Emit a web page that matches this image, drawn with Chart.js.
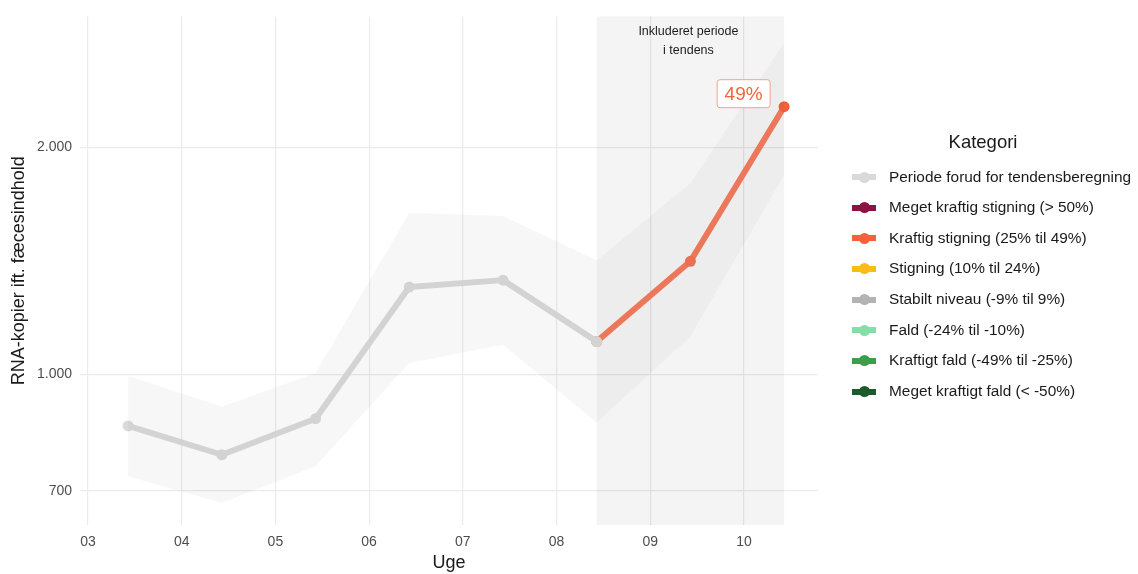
<!DOCTYPE html>
<html>
<head>
<meta charset="utf-8">
<script src="https://cdn.jsdelivr.net/npm/chart.js@4.4.0/dist/chart.umd.min.js"></script>
<style>
  html, body { margin: 0; padding: 0; background: #ffffff; }
  #wrap { position: relative; width: 1138px; height: 574px; overflow: hidden; font-family: "Liberation Sans", Arial, sans-serif; }
  #c { position: absolute; left: 0; top: 0; }
  #legend { position: absolute; left: 850px; top: 0; width: 288px; height: 574px; }
  #legend .title { position: absolute; left: 0; width: 266px; text-align: center; top: 131px; font-size: 18.5px; color: #1a1a1a; }
  #legend .item { position: absolute; left: 2px; height: 20px; font-size: 15.4px; color: #1a1a1a; white-space: nowrap; }
  #legend .bar { position: absolute; left: 0; top: 7px; width: 24px; height: 6px; }
  #legend .dot { position: absolute; left: 7px; top: 4.5px; width: 11px; height: 11px; border-radius: 50%; }
  #legend .txt { position: absolute; left: 37px; top: 0.5px; line-height: 18px; }
</style>
</head>
<body>
<div id="wrap">
  <canvas id="c" width="1138" height="574"></canvas>
  <div id="legend"></div>
</div>
<script>
// ---- data ----
const weeks = [3, 4, 5, 6, 7, 8, 9, 10];
const weekLabels = ['03', '04', '05', '06', '07', '08', '09', '10'];
const values = [854, 782, 873, 1305, 1333, 1105, 1412, 2264];
const upperBand = [995, 906, 1004, 1637, 1622, 1416, 1794, 2756];
const lowerBand = [732, 675, 755, 1035, 1094, 862, 1122, 1837];
const trendStartIndex = 5;
const yTicks = [700, 1000, 2000];
const yTickLabels = ['700', '1.000', '2.000'];
const trendLabel = '49%';
const shadeText = ['Inkluderet periode', 'i tendens'];
const legendTitle = 'Kategori';
const legendLabels = [
  'Periode forud for tendensberegning',
  'Meget kraftig stigning (> 50%)',
  'Kraftig stigning (25% til 49%)',
  'Stigning (10% til 24%)',
  'Stabilt niveau (-9% til 9%)',
  'Fald (-24% til -10%)',
  'Kraftigt fald (-49% til -25%)',
  'Meget kraftigt fald (< -50%)'
];
const legendColors = ['#d9d9d9', '#8b1244', '#f4623c', '#fbbd13', '#b3b3b3', '#84dea8', '#3a9f48', '#1d5a2b'];

// ---- helpers ----
const dayOffset = 3 / 7;
const xs = weeks.map(w => w + dayOffset);
const pts = arr => arr.map((v, i) => ({ x: xs[i], y: v }));
const grayPts = pts(values).slice(0, trendStartIndex + 1);
const trendPts = pts(values).slice(trendStartIndex);

const FONT = '"Liberation Sans", Arial, sans-serif';

const shadePlugin = {
  id: 'shade',
  beforeDatasetsDraw(chart) {
    const { ctx, chartArea, scales } = chart;
    const x0 = scales.x.getPixelForValue(xs[trendStartIndex]);
    const x1 = scales.x.getPixelForValue(xs[xs.length - 1]);
    ctx.save();
    ctx.fillStyle = 'rgba(0,0,0,0.045)';
    ctx.fillRect(x0, chartArea.top, x1 - x0, chartArea.bottom - chartArea.top);
    ctx.fillStyle = '#1a1a1a';
    ctx.font = '12.5px ' + FONT;
    ctx.textAlign = 'center';
    ctx.textBaseline = 'middle';
    const cx = (x0 + x1) / 2 - 2;
    ctx.fillText(shadeText[0], cx, chartArea.top + 15.5);
    ctx.fillText(shadeText[1], cx, chartArea.top + 34.5);
    ctx.restore();
  },
  afterDatasetsDraw(chart) {
    const { ctx, scales } = chart;
    const last = values.length - 1;
    const px = scales.x.getPixelForValue(xs[last]) - 40.5;
    const py = scales.y.getPixelForValue(values[last]) - 13;
    ctx.save();
    ctx.font = '19px ' + FONT;
    const w = 53, h = 28;
    const r = 3;
    ctx.beginPath();
    ctx.roundRect(px - w / 2, py - h / 2, w, h, r);
    ctx.fillStyle = '#ffffff';
    ctx.fill();
    ctx.lineWidth = 1;
    ctx.strokeStyle = '#f5a08a';
    ctx.stroke();
    ctx.fillStyle = '#f4623c';
    ctx.textAlign = 'center';
    ctx.textBaseline = 'middle';
    ctx.fillText(trendLabel, px, py + 1);
    ctx.restore();
  }
};

new Chart(document.getElementById('c'), {
  type: 'line',
  data: {
    datasets: [
      { data: pts(upperBand), borderWidth: 0, pointRadius: 0, fill: false, borderColor: 'rgba(0,0,0,0)' },
      { data: pts(lowerBand), borderWidth: 0, pointRadius: 0, fill: '-1', borderColor: 'rgba(0,0,0,0)', backgroundColor: 'rgba(0,0,0,0.03)' },
      { data: grayPts, borderColor: '#dadada', backgroundColor: '#dadada', borderWidth: 6, pointRadius: 5.5, pointBorderWidth: 0, pointBackgroundColor: '#dadada', fill: false },
      { data: trendPts, borderColor: '#f47b5e', backgroundColor: '#f47b5e', borderWidth: 6, pointRadius: 5.5, pointBorderWidth: 0,
        pointBackgroundColor: ['#f47b5e', '#f47356', '#f4603c'], fill: false }
    ]
  },
  options: {
    responsive: false,
    animation: false,
    devicePixelRatio: 1,
    layout: { padding: { left: 0, top: 12, right: 320, bottom: 0 } },
    plugins: { legend: { display: false }, tooltip: { enabled: false } },
    elements: { line: { tension: 0, borderCapStyle: 'butt', borderJoinStyle: 'round' } },
    scales: {
      x: {
        type: 'linear',
        min: 2.915,
        max: 10.79,
        afterFit(s) { s.height = 49; },
        afterBuildTicks(s) { s.ticks = weeks.map(w => ({ value: w })); },
        grid: { color: '#ebebeb', lineWidth: 1.2, drawTicks: false },
        border: { display: false },
        ticks: {
          padding: 9,
          color: '#4d4d4d',
          font: { family: FONT, size: 14 },
          callback: (v) => { const i = weeks.indexOf(v); return i >= 0 ? weekLabels[i] : ''; }
        },
        title: { display: true, text: 'Uge', color: '#1a1a1a', font: { family: FONT, size: 18 }, padding: { top: 0, bottom: 0 } }
      },
      y: {
        type: 'logarithmic',
        min: 631,
        max: 2983,
        afterFit(s) { s.width = 80; },
        afterBuildTicks(s) { s.ticks = yTicks.map(v => ({ value: v })); },
        grid: { color: '#ebebeb', lineWidth: 1.2, drawTicks: false },
        border: { display: false },
        ticks: {
          padding: 8,
          color: '#4d4d4d',
          font: { family: FONT, size: 14 },
          callback: (v) => { const i = yTicks.indexOf(v); return i >= 0 ? yTickLabels[i] : ''; }
        },
        title: { display: true, text: 'RNA-kopier ift. fæcesindhold', color: '#1a1a1a', font: { family: FONT, size: 18 }, padding: { top: 8, bottom: 0 } }
      }
    }
  },
  plugins: [shadePlugin]
});

// ---- legend ----
const lg = document.getElementById('legend');
const t = document.createElement('div');
t.className = 'title';
t.textContent = legendTitle;
lg.appendChild(t);
const legendTop = 167;
const legendStep = 30.65;
legendLabels.forEach((lab, i) => {
  const it = document.createElement('div');
  it.className = 'item';
  it.style.top = (legendTop + i * legendStep) + 'px';
  const bar = document.createElement('div'); bar.className = 'bar'; bar.style.background = legendColors[i];
  const dot = document.createElement('div'); dot.className = 'dot'; dot.style.background = legendColors[i];
  const tx = document.createElement('div'); tx.className = 'txt'; tx.textContent = lab;
  it.appendChild(bar); it.appendChild(dot); it.appendChild(tx);
  lg.appendChild(it);
});
</script>
</body>
</html>
